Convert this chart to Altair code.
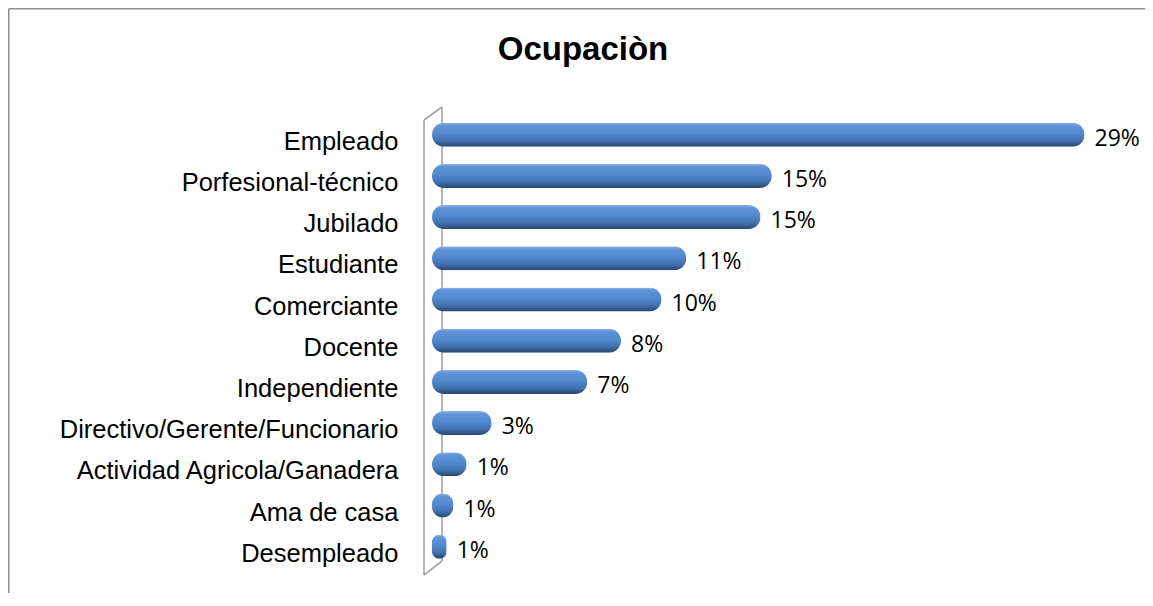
import altair as alt
import pandas as pd

categories = [
    "Empleado",
    "Porfesional-técnico",
    "Jubilado",
    "Estudiante",
    "Comerciante",
    "Docente",
    "Independiente",
    "Directivo/Gerente/Funcionario",
    "Actividad Agricola/Ganadera",
    "Ama de casa",
    "Desempleado",
]
values = [29.0, 15.1, 14.6, 11.3, 10.2, 8.4, 6.9, 2.65, 1.54, 0.95, 0.65]
labels = ["29%", "15%", "15%", "11%", "10%", "8%", "7%", "3%", "1%", "1%", "1%"]
title_text = "Ocupaciòn"

df = pd.DataFrame({"cat": categories, "val": values, "lab": labels})
one = pd.DataFrame({"a": [0]})

W = 713
H = 453.2
PL = 424
PT = 106.1
PB = 585 - PT - H
PR = 0

grad = alt.Gradient(
    gradient="linear",
    stops=[
        alt.GradientStop(color="#8db3e2", offset=0),
        alt.GradientStop(color="#5f94da", offset=0.12),
        alt.GradientStop(color="#5289cf", offset=0.45),
        alt.GradientStop(color="#4171b0", offset=0.75),
        alt.GradientStop(color="#27466f", offset=1),
    ],
    x1=0, x2=0, y1=0, y2=1,
)

ysc = alt.Scale(paddingInner=0.417, paddingOuter=0.2085)
xsc = alt.Scale(domain=[0, W / 22.5], nice=False, zero=True)

wall_color = "#a3a3a3"
frame_color = "#8f8f8f"

wall = [
    alt.Chart(one).mark_rule(color=wall_color, strokeWidth=1.6).encode(
        x=alt.value(-8), y=alt.value(5.9), y2=alt.value(460.9)),
    alt.Chart(one).mark_rule(color=wall_color, strokeWidth=1.6).encode(
        x=alt.value(10), y=alt.value(-7.1), y2=alt.value(446.9)),
    alt.Chart(one).mark_rule(color=wall_color, strokeWidth=1.6).encode(
        x=alt.value(-8), x2=alt.value(10), y=alt.value(5.9), y2=alt.value(-7.1)),
    alt.Chart(one).mark_rule(color=wall_color, strokeWidth=1.6).encode(
        x=alt.value(-8), x2=alt.value(10), y=alt.value(460.9), y2=alt.value(446.9)),
]

frame = [
    alt.Chart(one).mark_rule(color=frame_color, strokeWidth=1.5).encode(
        x=alt.value(-PL + 0.75), y=alt.value(-PT + 0.75), y2=alt.value(H + PB)),
    alt.Chart(one).mark_rule(color=frame_color, strokeWidth=1.5).encode(
        x=alt.value(-PL + 0.75), x2=alt.value(W + PR), y=alt.value(-PT + 0.75)),
]

bars = alt.Chart(df).mark_bar(cornerRadius=12, fill=grad).encode(
    y=alt.Y("cat:N", sort=categories, scale=ysc,
            axis=alt.Axis(title=None, ticks=False, domain=False, labelPadding=34,
                          labelFont="Liberation Sans", labelFontSize=25.5,
                          labelColor="#000000", labelOffset=7, labelLimit=600,
                          grid=False)),
    x=alt.X("val:Q", scale=xsc, axis=None),
)

text = alt.Chart(df).mark_text(align="left", baseline="middle", dx=10, dy=4,
                               font="Open Sans", fontSize=23, color="#000000").encode(
    y=alt.Y("cat:N", sort=categories, scale=ysc),
    x=alt.X("val:Q", scale=xsc),
    text="lab:N",
)

title = alt.Chart(one).mark_text(align="center", baseline="alphabetic",
                                 font="Liberation Sans", fontSize=33,
                                 fontWeight="bold", color="#000000").encode(
    x=alt.value(583 - 432), y=alt.value(60 - 114.1), text=alt.value(title_text))

chart = alt.layer(*frame, *wall, bars, text, title).properties(
    width=W, height=H,
    autosize=alt.AutoSizeParams(type="none"),
    padding={"left": PL, "top": PT, "right": PR, "bottom": PB},
).configure(background="white").configure_view(stroke=None, strokeWidth=0)

chart.save("out.html", embed_options={"renderer": "svg", "actions": False})
